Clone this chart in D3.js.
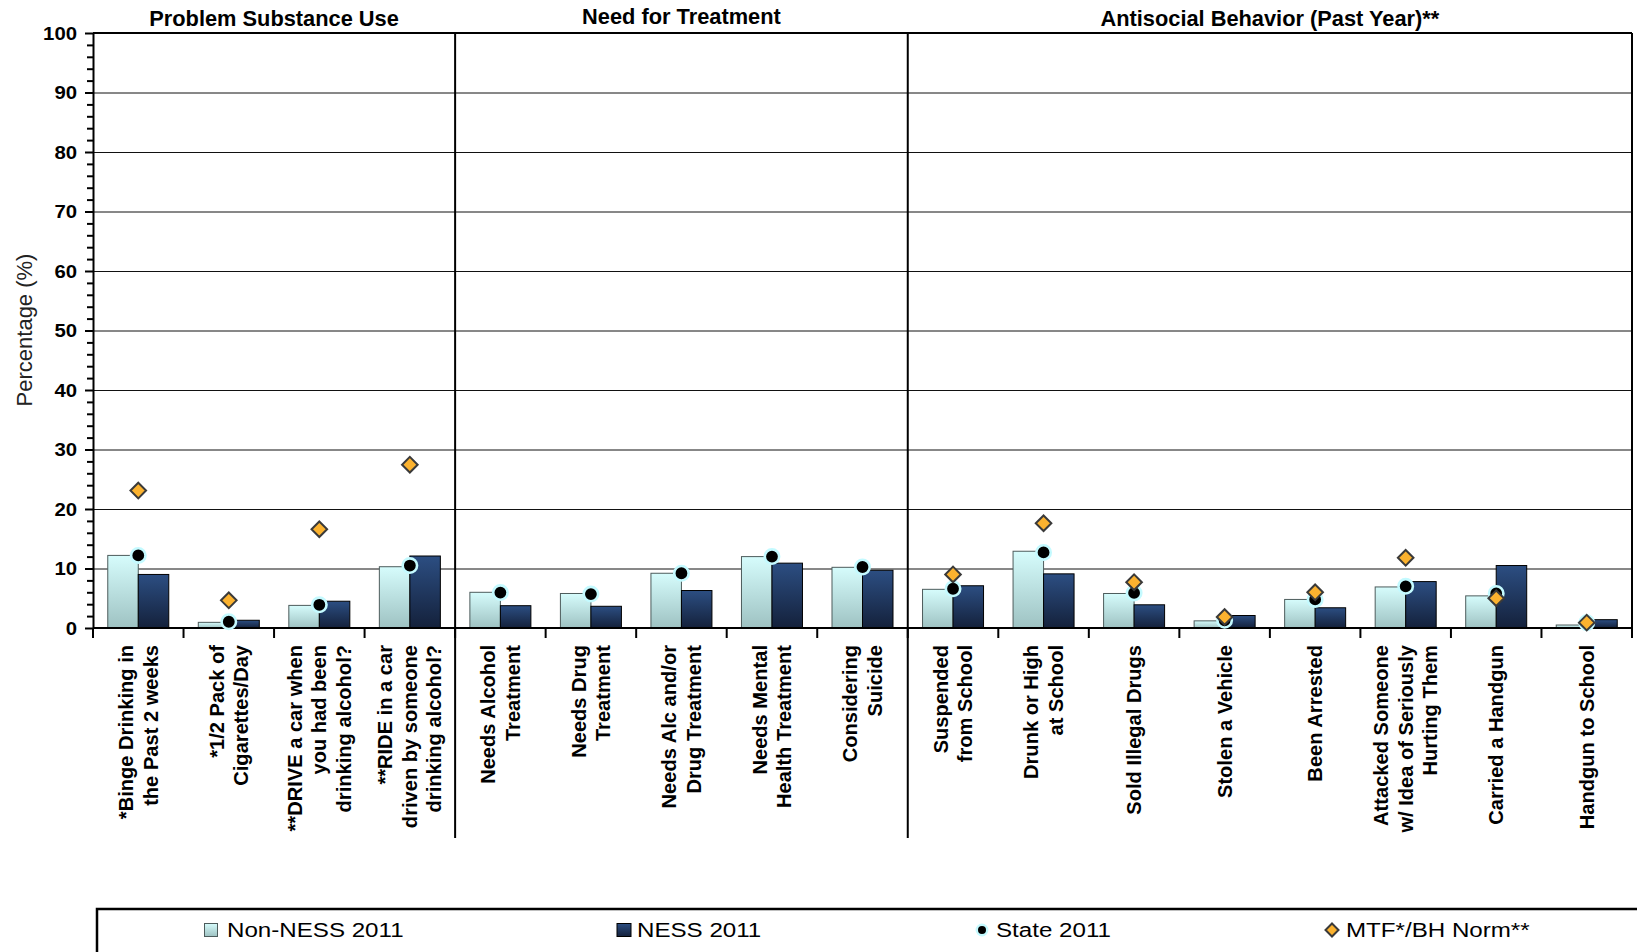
<!DOCTYPE html>
<html>
<head>
<meta charset="utf-8">
<script src="https://cdn.jsdelivr.net/npm/d3@7"></script>
<style>
  html, body { margin: 0; padding: 0; background: #fff; }
  svg { display: block; font-family: "Liberation Sans", Arial, sans-serif; }
</style>
</head>
<body>
<svg id="chart" width="1637" height="952"></svg>
<script>
// ---------------- DATA ----------------
const categories = [
  ["*Binge Drinking in", "the Past 2 weeks"],
  ["*1/2 Pack of", "Cigarettes/Day"],
  ["**DRIVE a car when", "you had been", "drinking alcohol?"],
  ["**RIDE in a car", "driven by someone", "drinking alcohol?"],
  ["Needs Alcohol", "Treatment"],
  ["Needs Drug", "Treatment"],
  ["Needs Alc and/or", "Drug Treatment"],
  ["Needs Mental", "Health Treatment"],
  ["Considering", "Suicide"],
  ["Suspended", "from School"],
  ["Drunk or High", "at School"],
  ["Sold Illegal Drugs"],
  ["Stolen a Vehicle"],
  ["Been Arrested"],
  ["Attacked Someone", "w/ Idea of Seriously", "Hurting Them"],
  ["Carried a Handgun"],
  ["Handgun to School"]
];
const nonNess = [12.2, 0.95, 3.8, 10.3, 6.0, 5.8, 9.2, 12.0, 10.2, 6.5, 12.9, 5.8, 1.2, 4.8, 6.9, 5.4, 0.5];
const ness    = [9.0, 1.3, 4.5, 12.1, 3.75, 3.65, 6.3, 10.9, 9.7, 7.1, 9.1, 3.9, 2.1, 3.4, 7.8, 10.5, 1.4];
const state   = [12.2, 1.05, 3.9, 10.5, 5.95, 5.7, 9.2, 12.0, 10.25, 6.6, 12.7, 5.9, 1.3, 4.8, 7.0, 5.8, 0.9];
const mtf     = [23.1, 4.65, 16.6, 27.45, null, null, null, null, null, 9.0, 17.6, 7.7, 1.85, 6.0, 11.8, 5.0, 0.9];
const panelNames  = ["Problem Substance Use", "Need for Treatment", "Antisocial Behavior (Past Year)**"];
const panelCounts = [4, 5, 8];
const yTicks = [0, 10, 20, 30, 40, 50, 60, 70, 80, 90, 100];
const seriesNames = ["Non-NESS 2011", "NESS 2011", "State 2011", "MTF*/BH Norm**"];
const yTitle = "Percentage (%)";

// ---------------- LAYOUT ----------------
const svg = d3.select("#chart");
const pLeft = 93, pRight = 1632, pTop = 33, pBottom = 628;

const x = d3.scaleBand().domain(d3.range(categories.length)).range([pLeft, pRight]).paddingInner(0).paddingOuter(0);
const xs = d3.scaleBand().domain(["nonNess", "ness"]).range([0, x.bandwidth()]).paddingInner(0).paddingOuter(0.484);
const y = d3.scaleLinear().domain([0, 100]).range([pBottom, pTop]);
const cx = i => x(i) + x.bandwidth() / 2;

// gradients
const defs = svg.append("defs");
function grad(id, c1, c2) {
  const g = defs.append("linearGradient").attr("id", id).attr("x1", 0).attr("y1", 0).attr("x2", 0).attr("y2", 1);
  g.append("stop").attr("offset", "0%").attr("stop-color", c1);
  g.append("stop").attr("offset", "100%").attr("stop-color", c2);
}
grad("gNon", "#d6fcfc", "#9ec2c2");
grad("gNess", "#2c4e82", "#14213b");

// gridlines
svg.append("g")
  .attr("transform", `translate(${pLeft},0)`)
  .call(d3.axisLeft(y).tickValues(yTicks.filter(v => v > 0 && v < 100)).tickSize(-(pRight - pLeft)).tickFormat(""))
  .call(g => g.select(".domain").remove())
  .call(g => g.selectAll("line").attr("stroke", "#111").attr("stroke-width", 1));

// bars
const barG = svg.append("g");
barG.selectAll("rect.non").data(nonNess).join("rect").attr("class", "non")
  .attr("x", (d, i) => x(i) + xs("nonNess"))
  .attr("y", d => y(d))
  .attr("width", xs.bandwidth())
  .attr("height", d => y(0) - y(d))
  .attr("fill", "url(#gNon)")
  .attr("stroke", "#4d5c5c").attr("stroke-width", 1);
barG.selectAll("rect.ness").data(ness).join("rect").attr("class", "ness")
  .attr("x", (d, i) => x(i) + xs("ness"))
  .attr("y", d => y(d))
  .attr("width", xs.bandwidth())
  .attr("height", d => y(0) - y(d))
  .attr("fill", "url(#gNess)")
  .attr("stroke", "#000").attr("stroke-width", 1);

// frame: top, right
svg.append("line").attr("x1", pLeft).attr("x2", pRight).attr("y1", y(100)).attr("y2", y(100)).attr("stroke", "#000").attr("stroke-width", 2);
svg.append("line").attr("x1", pRight).attr("x2", pRight).attr("y1", y(100)).attr("y2", y(0)).attr("stroke", "#000").attr("stroke-width", 2);

// y axis major
const yAx = svg.append("g").attr("transform", `translate(${pLeft},0)`)
  .call(d3.axisLeft(y).tickValues(yTicks).tickSize(8).tickSizeOuter(0).tickFormat(d3.format("d")));
yAx.select(".domain").attr("stroke", "#000").attr("stroke-width", 2);
yAx.selectAll(".tick line").attr("stroke", "#000").attr("stroke-width", 2);
yAx.selectAll(".tick text")
  .attr("x", 0).attr("dy", "0.34em")
  .attr("transform", "translate(-16,0) scale(1.13,1)")
  .attr("font-size", 18).attr("font-weight", "bold").attr("fill", "#000")
  .attr("font-family", "Liberation Sans, Arial, sans-serif");
// y axis minor
svg.append("g").attr("transform", `translate(${pLeft},0)`)
  .call(d3.axisLeft(y).tickValues(d3.range(0, 101, 2).filter(v => v % 10 !== 0)).tickSize(6).tickFormat(""))
  .call(g => g.select(".domain").remove())
  .call(g => g.selectAll("line").attr("stroke", "#000").attr("stroke-width", 2));

// x axis
const boundaries = d3.range(categories.length + 1).map(i => i < categories.length ? x(i) : pRight);
svg.append("line").attr("x1", pLeft).attr("x2", pRight).attr("y1", y(0)).attr("y2", y(0)).attr("stroke", "#000").attr("stroke-width", 2);
svg.append("g").selectAll("line").data(boundaries).join("line")
  .attr("x1", d => d).attr("x2", d => d).attr("y1", y(0)).attr("y2", y(0) + 10)
  .attr("stroke", "#000").attr("stroke-width", 2);

// panel dividers
let acc = 0;
const panelStarts = panelCounts.map(c => { const s = acc; acc += c; return s; });
panelStarts.slice(1).forEach(s => {
  svg.append("line").attr("x1", x(s)).attr("x2", x(s)).attr("y1", y(100)).attr("y2", 838)
    .attr("stroke", "#000").attr("stroke-width", 2);
});

// panel titles
panelNames.forEach((name, p) => {
  const s = panelStarts[p], e = s + panelCounts[p];
  const x0 = x(s), x1 = e < categories.length ? x(e) : pRight;
  svg.append("text").attr("x", (x0 + x1) / 2).attr("y", p === 1 ? 24 : 26)
    .attr("text-anchor", "middle").attr("font-size", 21.8).attr("font-weight", "bold").attr("fill", "#000")
    .text(name);
});

// category labels
const lineH = 24.5;
const lab = svg.append("g").selectAll("g").data(categories).join("g")
  .attr("transform", (d, i) => `translate(${cx(i)},645) rotate(-90)`);
lab.each(function(lines) {
  const n = lines.length;
  d3.select(this).selectAll("text").data(lines).join("text")
    .attr("x", 0)
    .attr("y", (d, k) => (k - (n - 1) / 2) * lineH + 7)
    .attr("text-anchor", "end")
    .attr("font-size", 20.1).attr("font-weight", "bold").attr("fill", "#000")
    .text(d => d);
});

// state markers
svg.append("g").selectAll("circle").data(state).join("circle")
  .attr("cx", (d, i) => cx(i)).attr("cy", d => y(d)).attr("r", 7.2)
  .attr("fill", "#000").attr("stroke", "#c4faff").attr("stroke-width", 2.6);

// MTF markers
const diamond = s => `M0,${-s}L${s},0L0,${s}L${-s},0Z`;
svg.append("g").selectAll("path").data(mtf.map((v, i) => ({v, i})).filter(d => d.v !== null)).join("path")
  .attr("transform", d => `translate(${cx(d.i)},${y(d.v)})`)
  .attr("d", diamond(7.8))
  .attr("fill", "#fbb22f").attr("stroke", "#3a3a3a").attr("stroke-width", 2);

// y title
svg.append("text").attr("transform", "translate(32,330) rotate(-90)")
  .attr("text-anchor", "middle").attr("font-size", 22).attr("fill", "#222")
  .text(yTitle);

// legend
svg.append("rect").attr("x", 97).attr("y", 909).attr("width", 1600).attr("height", 100)
  .attr("fill", "none").attr("stroke", "#000").attr("stroke-width", 2.5);
const legY = 930;
const legItems = [
  {sx: 211, tx: 227, type: "non"},
  {sx: 624, tx: 637, type: "ness"},
  {sx: 982, tx: 996, type: "state"},
  {sx: 1332, tx: 1346, type: "mtf"}
];
legItems.forEach((it, k) => {
  if (it.type === "non") {
    svg.append("rect").attr("x", it.sx - 6.5).attr("y", legY - 6.5).attr("width", 13).attr("height", 13)
      .attr("fill", "url(#gNon)").attr("stroke", "#4d5c5c").attr("stroke-width", 1);
  } else if (it.type === "ness") {
    svg.append("rect").attr("x", it.sx - 7).attr("y", legY - 6.5).attr("width", 14).attr("height", 13)
      .attr("fill", "url(#gNess)").attr("stroke", "#000").attr("stroke-width", 1);
  } else if (it.type === "state") {
    svg.append("circle").attr("cx", it.sx).attr("cy", legY).attr("r", 5.2)
      .attr("fill", "#000").attr("stroke", "#c4faff").attr("stroke-width", 2.4);
  } else {
    svg.append("path").attr("transform", `translate(${it.sx},${legY})`).attr("d", diamond(6.5))
      .attr("fill", "#fbb22f").attr("stroke", "#3a3a3a").attr("stroke-width", 2);
  }
  svg.append("text").attr("transform", `translate(${it.tx},937) scale(1.15,1)`)
    .attr("font-size", 21).attr("fill", "#000").text(seriesNames[k]);
});
</script>
</body>
</html>
